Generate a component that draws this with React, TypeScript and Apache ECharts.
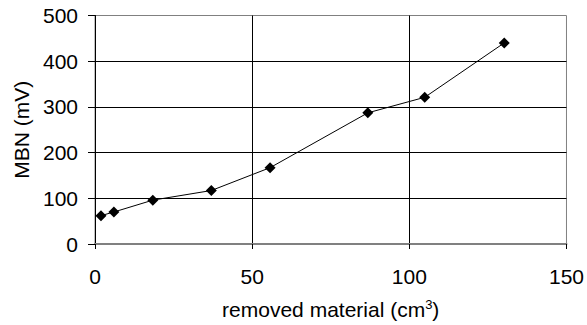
import React, { useEffect, useRef } from "react";
import * as echarts from "echarts";

const removedMaterial = [1.9, 6.0, 18.4, 37.0, 55.7, 86.8, 104.9, 130.2];
const mbn = [62, 70, 96, 117, 167, 287, 321, 440];
const xTicks = [0, 50, 100, 150];
const yTicks = [0, 100, 200, 300, 400, 500];

export default function App() {
  const ref = useRef<HTMLDivElement>(null);
  useEffect(() => {
    if (!ref.current) return;
    const chart = echarts.init(ref.current, null, { renderer: "svg" });
    const font = "Liberation Sans, Arial, sans-serif";
    chart.setOption({
      animation: false,
      backgroundColor: "#fff",
      grid: {
        left: 95,
        right: 19,
        top: 15.5,
        bottom: 81,
        show: true,
        borderColor: "#808080",
        borderWidth: 1,
      },
      xAxis: {
        type: "value",
        min: xTicks[0],
        max: xTicks[xTicks.length - 1],
        interval: 50,
        name: "removed material (cm{sup|3})",
        nameLocation: "middle",
        nameGap: 54,
        nameTextStyle: {
          fontFamily: font,
          fontSize: 21,
          color: "#000",
          rich: { sup: { fontSize: 13, verticalAlign: "top", padding: [0, 0, 10, 0], fontFamily: font, color: "#000" } },
        },
        axisLine: { show: true, lineStyle: { color: "#808080", width: 2 } },
        axisTick: { show: true, inside: false, length: 5, lineStyle: { color: "#000" } },
        axisLabel: { fontFamily: font, fontSize: 21, color: "#000", margin: 22 },
        splitLine: { show: true, showMinLine: false, showMaxLine: false, lineStyle: { color: "#000", width: 1 } },
      },
      yAxis: {
        type: "value",
        min: yTicks[0],
        max: yTicks[yTicks.length - 1],
        interval: 100,
        name: "MBN (mV)",
        nameLocation: "middle",
        nameGap: 63,
        nameTextStyle: { fontFamily: font, fontSize: 21, color: "#000" },
        axisLine: { show: true, lineStyle: { color: "#000", width: 1 } },
        axisTick: { show: true, inside: false, length: 7, lineStyle: { color: "#000" } },
        axisLabel: { fontFamily: font, fontSize: 21, color: "#000", margin: 17 },
        splitLine: { show: true, showMinLine: false, showMaxLine: false, lineStyle: { color: "#000", width: 1 } },
      },
      series: [
        {
          type: "line",
          data: removedMaterial.map((x, i) => [x, mbn[i]]),
          symbol: "diamond",
          symbolSize: 11,
          lineStyle: { color: "#000", width: 1 },
          itemStyle: { color: "#000" },
        },
      ],
    });
    return () => chart.dispose();
  }, []);
  return <div ref={ref} style={{ width: 587, height: 325, position: "absolute", left: 0, top: 0 }} />;
}
